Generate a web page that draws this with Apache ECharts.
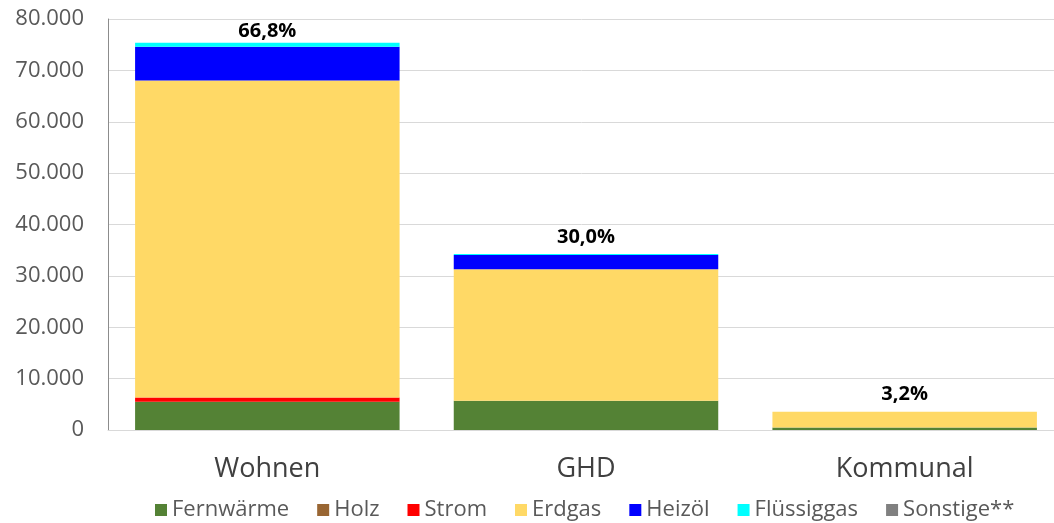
<!DOCTYPE html>
<html>
<head>
<meta charset="utf-8">
<script src="https://cdn.jsdelivr.net/npm/echarts@6/dist/echarts.min.js"></script>
<style>
  html, body { margin: 0; padding: 0; background: #fff; }
  #chart { width: 1054px; height: 523px; }
</style>
</head>
<body>
<div id="chart"></div>
<script>
// Kategorien und Werte
var categories = ['Wohnen', 'GHD', 'Kommunal'];
var fernwaerme = [5500, 5700, 500];
var holz = [0, 0, 0];
var strom = [850, 0, 0];
var erdgas = [61700, 25600, 3050];
var heizoel = [6550, 2750, 0];
var fluessiggas = [780, 200, 0];
var sonstige = [0, 0, 0];
var shareLabels = ['66,8%', '30,0%', '3,2%'];

var font = '"Open Sans", "Noto Sans", sans-serif';

function fmt(v) {
    return String(v).replace(/\B(?=(\d{3})+(?!\d))/g, '.');
}

function bar(name, data, color) {
    return {
        name: name,
        type: 'bar',
        stack: 'total',
        barCategoryGap: '17%',
        data: data,
        itemStyle: { color: color },
        emphasis: { disabled: true }
    };
}

var myChart = echarts.init(document.getElementById('chart'));
// Anteil-Beschriftung oben auf dem Stapel (erste Spalte etwas näher, wie im Original)
var lastSeries = bar('Sonstige**', sonstige.map(function (v, i) {
    return i === 0 ? { value: v, label: { distance: 1 } } : v;
}), '#808080');
lastSeries.label = {
    show: true,
    position: 'top',
    distance: 7,
    fontFamily: font,
    fontSize: 20,
    fontWeight: 'bold',
    color: '#000',
    formatter: function (p) { return shareLabels[p.dataIndex]; }
};

var option = {
    animation: false,
    grid: { left: 108, right: -10, top: 19, bottom: 93, outerBoundsMode: 'none' },
    legend: {
        bottom: -3,
        left: 150,
        itemWidth: 12,
        itemHeight: 12,
        itemGap: 28,
        icon: 'rect',
        textStyle: { fontFamily: font, fontSize: 22, color: '#595959' },
        data: ['Fernwärme', 'Holz', 'Strom', 'Erdgas', 'Heizöl', 'Flüssiggas', 'Sonstige**']
    },
    xAxis: {
        type: 'category',
        data: categories,
        axisLine: { lineStyle: { color: '#d9d9d9' } },
        axisTick: { show: false },
        axisLabel: { fontFamily: font, fontSize: 27, color: '#404040', margin: 26 }
    },
    yAxis: {
        type: 'value',
        min: 0,
        max: 80000,
        interval: 10000,
        axisLine: { show: true, lineStyle: { color: '#8c8c8c' } },
        axisTick: { show: false },
        splitLine: { lineStyle: { color: '#d9d9d9' } },
        axisLabel: {
            fontFamily: font,
            fontSize: 22,
            color: '#595959',
            margin: 24,
            formatter: fmt
        }
    },
    series: [
        bar('Fernwärme', fernwaerme, '#548235'),
        bar('Holz', holz, '#996633'),
        bar('Strom', strom, '#ff0000'),
        bar('Erdgas', erdgas, '#ffd966'),
        bar('Heizöl', heizoel, '#0000ff'),
        bar('Flüssiggas', fluessiggas, '#00ffff'),
        lastSeries
    ]
};
myChart.setOption(option);
</script>
</body>
</html>
